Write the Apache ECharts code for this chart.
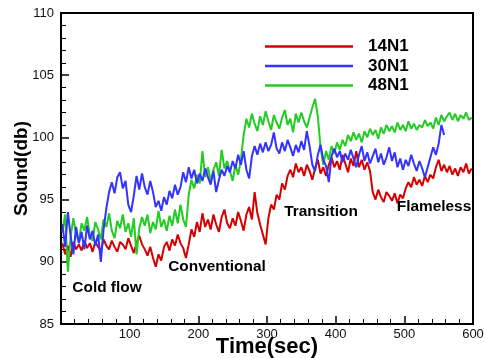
<!DOCTYPE html>
<html>
<head>
<meta charset="utf-8">
<script src="https://cdn.jsdelivr.net/npm/echarts@6/dist/echarts.min.js"></script>
<style>html,body{margin:0;padding:0;background:#fff;}#c{width:484px;height:358px;}</style>
</head>
<body>
<div id="c"></div>
<script>
var time = [2,6,10,14,18,22,26,30,34,38,42,46,50,54,58,62,66,70,74,78,
82,86,90,94,98,102,106,110,114,118,122,126,130,134,138,142,146,150,154,158,
162,166,170,174,178,182,186,190,194,198,202,206,210,214,218,222,226,230,234,238,
242,246,250,254,258,262,266,270,274,278,282,286,290,294,298,302,306,310,314,318,
322,326,330,334,338,342,346,350,354,358,362,366,370,374,378,382,386,390,394,398,
402,406,410,414,418,422,426,430,434,438,442,446,450,454,458,462,466,470,474,478,
482,486,490,494,498,502,506,510,514,518,522,526,530,534,538,542,546,550,554,558,
562,566,570,574,578,582,586,590,594,598];

var s14N1 = [91.5,90.6,91.3,90.4,91.6,91.0,91.4,90.9,91.7,91.1,91.5,90.8,91.6,91.2,90.9,91.8,91.3,91.0,91.7,91.2,
90.8,91.6,91.4,91.0,91.9,91.3,90.7,91.5,92.1,91.4,91.0,90.5,91.2,90.3,89.6,90.6,90.1,91.2,91.6,90.9,
91.8,91.3,92.2,91.5,91.1,90.3,91.4,92.6,92.0,93.2,92.4,93.9,92.8,93.4,92.6,93.8,93.0,92.4,93.6,94.2,
93.1,92.7,93.5,92.9,94.0,93.3,92.5,93.8,94.4,93.4,95.6,93.9,93.0,92.2,91.4,93.5,94.6,94.2,95.4,95.0,
96.3,95.8,96.9,97.4,96.8,97.9,97.2,97.6,96.9,97.8,97.3,96.6,97.5,98.2,97.1,97.6,96.9,97.8,98.4,97.6,
98.1,97.4,98.6,97.9,97.2,98.3,97.7,98.9,97.6,98.2,97.4,98.0,97.3,95.6,95.0,95.8,95.2,94.8,95.6,95.3,
94.9,95.5,94.7,95.4,95.1,95.9,96.4,96.0,96.8,96.2,96.6,96.1,96.9,96.4,97.0,96.7,97.6,98.2,97.3,97.8,
97.2,97.7,97.0,97.5,96.9,97.6,97.2,97.9,97.1,97.5];

var s30N1 = [93.0,91.2,94.0,92.1,90.6,92.8,91.5,92.4,91.0,92.9,91.8,92.5,91.3,92.2,90.0,92.6,94.3,95.6,96.4,95.5,
96.8,97.2,95.9,96.5,94.6,94.0,95.3,96.9,95.8,97.1,96.0,95.4,96.5,95.6,94.4,94.9,94.1,95.2,94.6,95.7,
95.1,96.2,95.4,96.0,97.2,96.4,97.6,96.7,97.4,96.3,97.1,96.5,97.5,96.8,96.2,97.3,95.6,96.6,97.4,96.9,
97.7,97.2,98.1,97.5,98.6,97.8,98.9,97.4,96.7,98.5,99.3,98.6,99.5,98.8,99.6,98.9,99.4,100.4,99.1,98.7,
99.6,98.9,99.8,99.2,98.5,99.4,98.8,99.7,99.0,100.5,99.3,97.8,97.3,98.6,99.4,98.2,97.7,96.4,98.5,99.1,
98.4,98.9,98.0,98.7,98.2,99.0,98.3,97.6,98.6,99.3,98.1,98.8,97.9,98.5,99.1,98.0,98.7,97.8,98.4,99.2,
98.1,98.8,97.6,98.3,97.4,98.2,97.7,98.6,97.9,97.3,98.1,97.5,96.8,97.6,98.4,99.2,98.6,99.5,101.0,100.2];

var s48N1 = [92.4,93.8,89.2,92.0,93.5,92.2,91.6,93.1,92.5,93.6,92.1,91.7,93.2,92.6,91.8,93.4,92.8,93.9,92.5,91.9,
93.3,92.7,93.8,92.4,93.1,92.0,93.5,90.6,92.7,93.6,92.9,93.8,92.3,93.2,92.6,94.1,92.8,93.4,92.5,93.7,
92.9,94.2,93.1,94.6,93.4,92.8,95.4,96.6,95.9,97.0,96.3,98.9,96.8,97.6,96.5,97.4,98.0,96.9,99.0,97.5,
98.1,97.3,96.5,97.8,97.0,98.2,100.2,101.5,100.8,101.9,101.1,100.5,101.7,101.0,102.1,101.3,100.6,101.8,101.2,100.7,
101.6,102.2,101.0,101.5,100.4,101.9,101.2,102.0,101.3,100.8,101.6,102.4,103.1,101.7,99.2,97.8,98.9,98.2,99.3,98.7,
99.6,99.0,99.8,99.3,100.2,99.7,100.4,99.8,100.3,99.6,100.5,100.0,100.7,100.2,100.6,99.9,100.8,100.3,101.0,100.5,
100.9,100.4,101.2,100.6,101.0,100.5,101.3,100.7,101.1,100.6,101.0,100.8,101.4,100.9,101.2,100.7,101.6,101.0,101.8,101.3,
101.7,102.0,101.4,101.9,101.3,101.8,101.5,102.0,101.4,101.6];

var seriesNames = ['14N1', '30N1', '48N1'];
var seriesValues = [s14N1, s30N1, s48N1];
var colors = ['#d40000', '#3333ff', '#22cc22'];

var annotations = [
  {text: 'Cold flow', x: 107, y: 288},
  {text: 'Conventional', x: 217, y: 267},
  {text: 'Transition', x: 321, y: 212},
  {text: 'Flameless', x: 434, y: 207}
];

function pairs(vals) {
  var out = [];
  for (var i = 0; i < vals.length; i++) out.push([time[i], vals[i]]);
  return out;
}

var chart = echarts.init(document.getElementById('c'), null, {renderer: 'canvas'});
var font = 'Arial, "Liberation Sans", sans-serif';

var option = {
  animation: false,
  backgroundColor: '#fff',
  grid: {left: 61, right: 11, top: 13, bottom: 34, containLabel: false, outerBoundsMode: 'none',
         show: true, borderColor: '#000', borderWidth: 2, backgroundColor: 'transparent'},
  legend: {
    data: seriesNames,
    orient: 'vertical',
    left: 265,
    top: 38,
    padding: 0,
    icon: 'rect',
    itemWidth: 88,
    itemHeight: 2.5,
    itemGap: 2.5,
    textStyle: {fontFamily: font, fontWeight: 'bold', fontSize: 17, color: '#000', lineHeight: 17, padding: [0, 0, 0, 10]}
  },
  xAxis: {
    type: 'value', min: 0, max: 600, interval: 100,
    name: 'Time(sec)', nameLocation: 'middle', nameGap: 12, nameMoveOverlap: false,
    nameTextStyle: {fontFamily: font, fontWeight: 'bold', fontSize: 22, color: '#000', verticalAlign: 'top'},
    axisLine: {show: true, lineStyle: {color: '#000', width: 2}},
    axisTick: {show: true, inside: true, length: 8, lineStyle: {color: '#000', width: 1.5}},
    minorTick: {show: true, splitNumber: 5, length: 5, lineStyle: {color: '#000', width: 1}},
    axisLabel: {showMinLabel: false, margin: 4, fontFamily: font, fontSize: 13, color: '#111'},
    splitLine: {show: false}
  },
  yAxis: {
    type: 'value', min: 85, max: 110, interval: 5,
    name: 'Sound(db)', nameLocation: 'middle', nameGap: 30, nameRotate: 90, nameMoveOverlap: false,
    nameTextStyle: {fontFamily: font, fontWeight: 'bold', fontSize: 19, color: '#000'},
    axisLine: {show: true, lineStyle: {color: '#000', width: 2}},
    axisTick: {show: true, inside: true, length: 8, lineStyle: {color: '#000', width: 1.5}},
    minorTick: {show: true, splitNumber: 5, length: 5, lineStyle: {color: '#000', width: 1}},
    axisLabel: {margin: 7, fontFamily: font, fontSize: 13, color: '#111'},
    splitLine: {show: false}
  },
  graphic: annotations.map(function (a) {
    return {type: 'text', x: a.x, y: a.y, z: 100, scaleX: 1.1, style: {text: a.text, fontFamily: font, fontWeight: 'bold', fontSize: 14, fill: '#000', align: 'center', verticalAlign: 'middle'}};
  }),
  series: seriesNames.map(function (n, k) {
    return {
      name: n, type: 'line', data: pairs(seriesValues[k]), showSymbol: false, symbol: 'none',
      lineStyle: {color: colors[k], width: 2}, itemStyle: {color: colors[k]}, z: 2 + (k === 1 ? 1 : 0)
    };
  })
};
chart.setOption(option);
</script>
</body>
</html>
